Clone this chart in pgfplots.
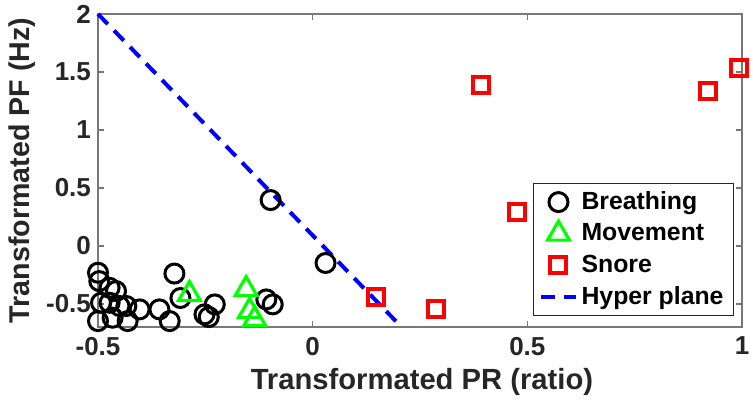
\documentclass[border=0pt]{standalone}
\usepackage{pgfplots}
\pgfplotsset{compat=1.18}
\usepackage{fontspec}
\setmainfont{Liberation Sans}
\definecolor{txtgray}{RGB}{38,38,38}
\definecolor{axgray}{RGB}{120,120,120}
\definecolor{mgreen}{RGB}{0,255,0}
\definecolor{mred}{RGB}{255,0,0}
\definecolor{mblue}{RGB}{0,0,255}
\begin{document}
\begin{tikzpicture}
\begin{axis}[
  at={(0,0)}, anchor=south west,
  scale only axis, width=322pt, height=156.5pt,
  xmin=-0.5, xmax=1, ymin=-0.7, ymax=2,
  xtick={-0.5,0,0.5,1}, ytick={-0.5,0,0.5,1,1.5,2},
  xticklabels={-0.5,0,0.5,1},
  yticklabels={-0.5,0,0.5,1,1.5,2},
  tick align=inside, major tick length=3pt,
  axis line style={axgray, line width=0.7pt},
  every tick/.style={axgray, line width=0.7pt},
  clip=false,
  font=\bfseries\fontsize{12.4}{14.5}\selectfont,
  ticklabel style={font=\bfseries\fontsize{13}{15}\selectfont, text=txtgray},
  xticklabel style={yshift=-1.5pt},
  xlabel={Transformated PR (ratio)},
  ylabel={Transformated PF (Hz)},
  xlabel style={at={(axis description cs:0.503,-0.176)}, anchor=center, text=txtgray, font=\bfseries\fontsize{14.6}{17}\selectfont},
  ylabel style={at={(axis description cs:-0.118,0.5)}, anchor=center, text=txtgray, font=\bfseries\fontsize{14.3}{17}\selectfont},
  legend style={at={(axis description cs:0.9876,0.035)}, anchor=south east,
    draw=txtgray, line width=0.5pt, font=\bfseries\fontsize{12.4}{14.5}\selectfont,
    row sep=1.6pt, inner xsep=3pt, inner ysep=2pt},
  legend cell align=left,
]
\addplot[only marks, mark=o, mark size=4.75pt, black, line width=1.5pt] coordinates {
(-0.500,-0.232) (-0.497,-0.304) (-0.473,-0.362) (-0.458,-0.390)
(-0.493,-0.491) (-0.473,-0.491) (-0.450,-0.519) (-0.434,-0.519)
(-0.500,-0.649) (-0.466,-0.620) (-0.431,-0.649) (-0.403,-0.548)
(-0.357,-0.548) (-0.333,-0.649) (-0.322,-0.239) (-0.308,-0.450)
(-0.252,-0.591) (-0.242,-0.614) (-0.228,-0.505) (-0.108,-0.462)
(-0.093,-0.505) (-0.098,0.395) (0.030,-0.148)
};
\addlegendentry{Breathing}
\addplot[only marks, mark=triangle, mark size=6.3pt, mgreen, line width=1.6pt] coordinates {
(-0.287,-0.417) (-0.155,-0.375) (-0.147,-0.563) (-0.135,-0.634)
};
\addlegendentry{Movement}
\addplot[only marks, mark=square, mark size=4pt, mred, line width=2pt] coordinates {
(0.147,-0.442) (0.288,-0.548) (0.393,1.385) (0.476,0.294) (0.921,1.336) (0.993,1.531)
};
\addlegendentry{Snore}
\addplot[mblue, line width=2pt, dash pattern=on 7pt off 4.5pt] coordinates {
(-0.5,2) (0.207,-0.7)
};
\addlegendentry{Hyper plane}
\end{axis}
\pgfresetboundingbox
\path (-49pt,-42pt) rectangle (327.5pt,163.5pt);
\end{tikzpicture}
\end{document}
